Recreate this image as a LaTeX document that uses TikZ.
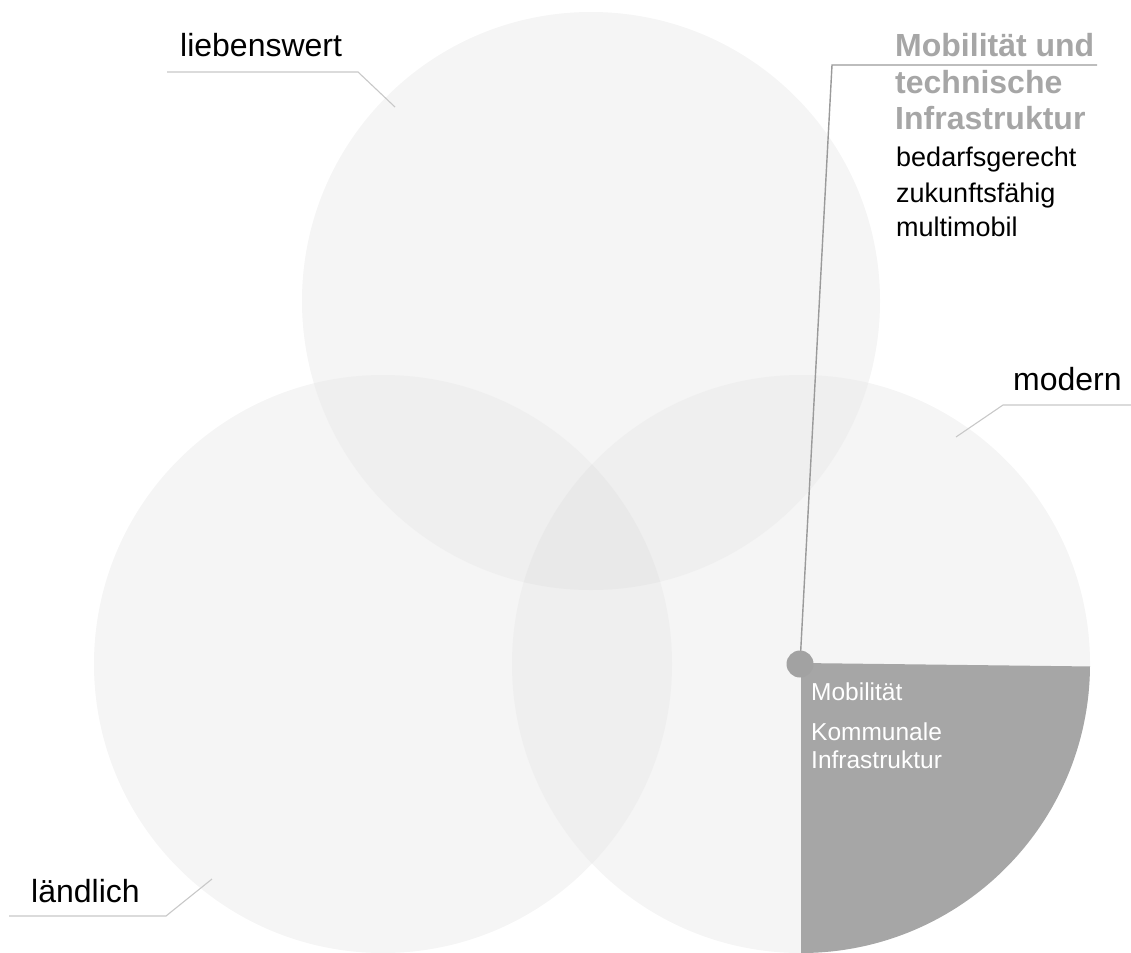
\documentclass[tikz,border=0pt]{standalone}
\usepackage{fontspec}
\setmainfont{Liberation Sans}
\definecolor{cone}{HTML}{F5F5F5}
\definecolor{ctwo}{HTML}{EFEFEF}
\definecolor{cthree}{HTML}{E9E9E9}
\definecolor{csec}{HTML}{A6A6A6}
\definecolor{cdot}{HTML}{A2A2A2}
\definecolor{cleader}{HTML}{C8C8C8}
\definecolor{cmline}{HTML}{9A9A9A}
\definecolor{ctitle}{HTML}{A6A6A6}
\begin{document}
\begin{tikzpicture}[x=1pt,y=-1pt,
  leader/.style={draw=cleader,line width=1.1pt},
  mline/.style={draw=cmline,line width=1.4pt},
  hubdot/.style={circle,fill=cdot,inner sep=0pt,minimum size=27pt},
  biglabel/.style={anchor=base west,inner sep=0pt,font=\fontsize{32}{36}\selectfont},
  titleline/.style={anchor=base west,inner sep=0pt,text=ctitle,font=\bfseries\fontsize{32}{36}\selectfont},
  listline/.style={anchor=base west,inner sep=0pt,font=\fontsize{27}{32}\selectfont},
  innerline/.style={anchor=base west,inner sep=0pt,text=white,font=\fontsize{24.5}{28}\selectfont}]
\useasboundingbox (0,0) rectangle (1131,952);
\coordinate (T) at (591,301);
\coordinate (L) at (383,664);
\coordinate (R) at (801,664);
% circles
\fill[cone] (T) circle[radius=289pt];
\fill[cone] (L) circle[radius=289pt];
\fill[cone] (R) circle[radius=289pt];
% pairwise overlaps
\begin{scope}
  \clip (T) circle[radius=289pt];
  \fill[ctwo] (L) circle[radius=289pt];
  \fill[ctwo] (R) circle[radius=289pt];
\end{scope}
\begin{scope}
  \clip (L) circle[radius=289pt];
  \fill[ctwo] (R) circle[radius=289pt];
\end{scope}
% triple overlap
\begin{scope}
  \clip (T) circle[radius=289pt];
  \clip (L) circle[radius=289pt];
  \fill[cthree] (R) circle[radius=289pt];
\end{scope}
% quarter sector
\begin{scope}
  \clip (R) circle[radius=289pt];
  \fill[csec] (801,663) -- (1135,667) -- (1135,960) -- (801,960) -- cycle;
\end{scope}
% labels with leaders
\node[biglabel] (lieb) at (180,57) {liebenswert};
\coordinate (liebA) at (167,72);
\coordinate (liebB) at (358,72);
\coordinate (liebC) at (395,107);
\draw[leader] (liebA) -- (liebB) -- (liebC);

\node[biglabel] (mod) at (1013,390) {modern};
\coordinate (modA) at (1131,405);
\coordinate (modB) at (1003,405);
\coordinate (modC) at (956,437);
\draw[leader] (modA) -- (modB) -- (modC);

\node[biglabel] (land) at (31,902) {ländlich};
\coordinate (landA) at (9,916);
\coordinate (landB) at (166,916);
\coordinate (landC) at (212,879);
\draw[leader] (landA) -- (landB) -- (landC);

% callout
\coordinate (hubc) at (800,664);
\coordinate (bend) at (832,65);
\coordinate (lend) at (1097,65);
\draw[mline] (hubc) -- (bend) -- (lend);
\node[hubdot] (hub) at (hubc) {};

\node[titleline] (t1) at (895,57) {Mobilität und};
\node[titleline] (t2) at (895,94) {technische};
\node[titleline] (t3) at (895,130) {Infrastruktur};
\node[listline] (l1) at (896,167) {bedarfsgerecht};
\node[listline] (l2) at (896,202) {zukunftsfähig};
\node[listline] (l3) at (896,236) {multimobil};

\node[innerline] (i1) at (811,700) {Mobilität};
\node[innerline] (i2) at (811,740) {Kommunale};
\node[innerline] (i3) at (811,768) {Infrastruktur};
\end{tikzpicture}
\end{document}
